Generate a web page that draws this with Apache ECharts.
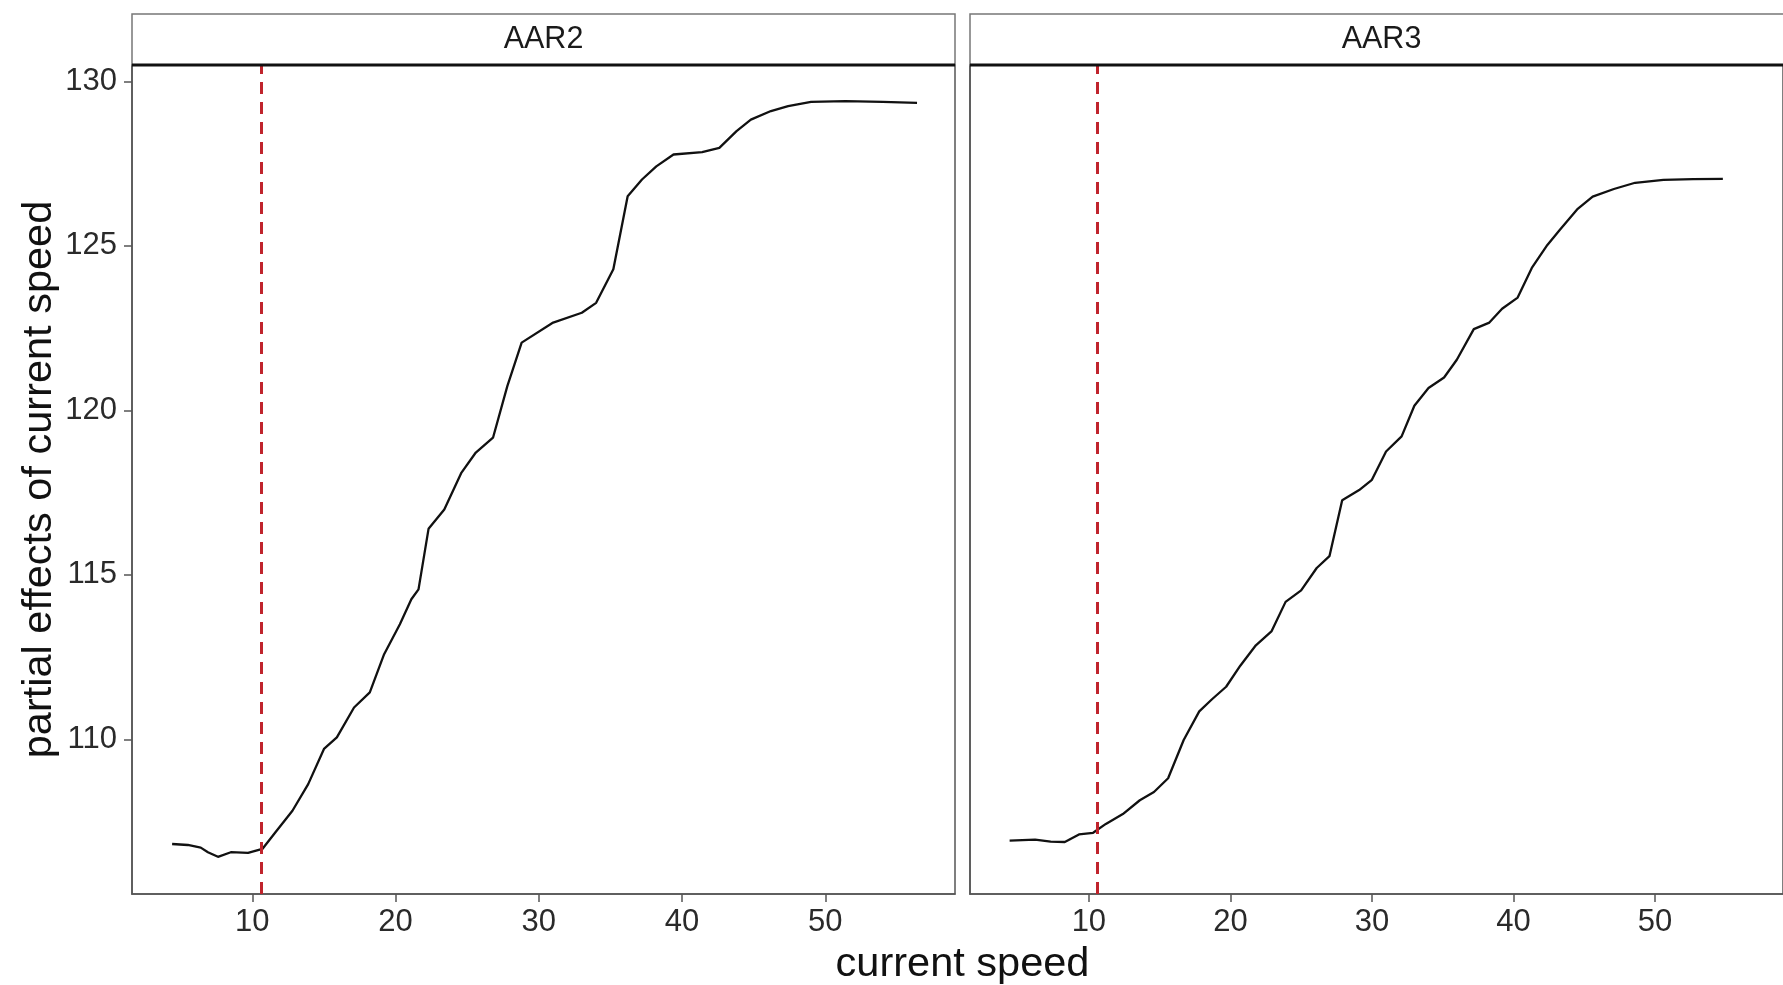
<!DOCTYPE html>
<html>
<head>
<meta charset="utf-8">
<script src="https://cdn.jsdelivr.net/npm/echarts@6/dist/echarts.min.js"></script>
<style>
html,body{margin:0;padding:0;background:#fff;}
#c{width:1783px;height:985px;}
</style>
</head>
<body>
<div id="c"></div>
<script>
// ---- data ----
const panels = ["AAR2", "AAR3"];
const xTicks = [10, 20, 30, 40, 50];
const yTicks = [110, 115, 120, 125, 130];
const threshold = 10.6;

const speedAAR2 = [4.4, 5.5, 6.4, 6.9, 7.6, 8.5, 9.7, 10.7, 11.6, 12.8, 13.9, 15.0, 15.9, 17.1, 18.2, 19.2, 20.3, 21.1, 21.6, 22.3, 23.4, 24.6, 25.6, 26.8, 27.8, 28.8, 31.0, 33.0, 34.0, 35.2, 36.2, 37.2, 38.2, 39.4, 41.4, 42.6, 43.8, 44.8, 46.2, 47.4, 49.0, 51.4, 54.0, 56.4];
const effectAAR2 = [106.82, 106.79, 106.71, 106.57, 106.43, 106.57, 106.55, 106.67, 107.17, 107.83, 108.64, 109.71, 110.06, 110.97, 111.43, 112.59, 113.50, 114.26, 114.56, 116.40, 116.99, 118.11, 118.72, 119.17, 120.74, 122.06, 122.67, 122.97, 123.27, 124.29, 126.51, 127.02, 127.42, 127.78, 127.85, 127.98, 128.49, 128.84, 129.10, 129.25, 129.38, 129.40, 129.38, 129.35];

const speedAAR3 = [4.4, 6.2, 7.3, 8.3, 9.3, 10.3, 11.2, 12.4, 13.6, 14.6, 15.6, 16.7, 17.8, 18.7, 19.7, 20.7, 21.8, 22.9, 23.9, 25.0, 26.1, 27.0, 27.9, 29.1, 30.0, 31.0, 32.1, 33.0, 34.0, 35.1, 36.0, 37.2, 38.3, 39.2, 40.3, 41.3, 42.4, 43.3, 44.5, 45.6, 47.1, 48.6, 50.6, 52.7, 54.8];
const effectAAR3 = [106.92, 106.95, 106.89, 106.88, 107.11, 107.16, 107.43, 107.73, 108.15, 108.40, 108.82, 109.98, 110.85, 111.22, 111.60, 112.24, 112.86, 113.28, 114.18, 114.53, 115.21, 115.57, 117.27, 117.58, 117.89, 118.75, 119.21, 120.14, 120.68, 121.00, 121.54, 122.47, 122.67, 123.09, 123.43, 124.33, 125.03, 125.50, 126.11, 126.50, 126.73, 126.92, 127.01, 127.03, 127.04];

const xTitle = "current speed";
const yTitle = "partial effects of current speed";

// ---- layout ----
const FONT = "'Liberation Sans', Arial, Helvetica, sans-serif";
const gridTop = 65, gridH = 829, gridW = 823;
const gridLefts = [132, 970];
const stripTop = 14;
const xRange = [1.6, 59.05];
const yRange = [105.3, 130.5];
const borderCol = "#555555";
const labelCol = "#2a2a2a";

const chart = echarts.init(document.getElementById('c'), null, {renderer: 'canvas'});

const zip = (xs, ys) => xs.map((x, i) => [x, ys[i]]);
const seriesData = [zip(speedAAR2, effectAAR2), zip(speedAAR3, effectAAR3)];

const grids = gridLefts.map(l => ({
  left: l, top: gridTop, width: gridW, height: gridH,
  show: true, borderColor: borderCol, borderWidth: 1.5, backgroundColor: '#fff', containLabel: false
}));

const xAxes = gridLefts.map((l, i) => ({
  type: 'value', gridIndex: i, min: xRange[0], max: xRange[1],
  axisLine: {show: true, onZero: false, lineStyle: {color: borderCol, width: 1.5}},
  axisTick: {show: true, length: 8, customValues: xTicks, lineStyle: {color: borderCol, width: 1.5}},
  axisLabel: {show: true, customValues: xTicks, margin: 13, fontSize: 31, color: labelCol, fontFamily: FONT},
  splitLine: {show: false}
}));

const yAxes = gridLefts.map((l, i) => ({
  type: 'value', gridIndex: i, min: yRange[0], max: yRange[1],
  axisLine: {show: true, onZero: false, lineStyle: {color: borderCol, width: 1.5}},
  axisTick: {show: i === 0, length: 8, customValues: yTicks, lineStyle: {color: borderCol, width: 1.5}},
  axisLabel: {show: i === 0, customValues: yTicks, margin: 15, fontSize: 31, color: labelCol, fontFamily: FONT},
  splitLine: {show: false}
}));

const series = seriesData.map((d, i) => ({
  type: 'line', xAxisIndex: i, yAxisIndex: i, data: d,
  showSymbol: false, symbol: 'none', smooth: false,
  lineStyle: {color: '#111', width: 2.3},
  z: 3,
  markLine: {
    silent: true, symbol: ['none', 'none'], label: {show: false},
    lineStyle: {color: '#c0242c', type: [12, 8], width: 3},
    data: [{xAxis: threshold}], z: 4
  }
}));

const graphics = [];
gridLefts.forEach((l, i) => {
  graphics.push({
    type: 'rect', shape: {x: l, y: stripTop, width: gridW, height: gridTop - stripTop},
    style: {fill: '#fff', stroke: '#777', lineWidth: 1.5}, z: 10
  });
  graphics.push({
    type: 'line', shape: {x1: l, y1: gridTop, x2: l + gridW, y2: gridTop},
    style: {stroke: '#111', lineWidth: 3}, z: 11
  });
  graphics.push({
    type: 'text', x: l + gridW / 2, y: (stripTop + gridTop) / 2,
    style: {text: panels[i], fontSize: 30.5, fill: '#1a1a1a', fontFamily: FONT, align: 'center', verticalAlign: 'middle'},
    z: 12
  });
});
graphics.push({
  type: 'text', x: (gridLefts[0] + gridLefts[1] + gridW) / 2, y: 965,
  style: {text: xTitle, fontSize: 41.5, fill: '#111', fontFamily: FONT, align: 'center', verticalAlign: 'middle'}, z: 12
});
graphics.push({
  type: 'text', x: 40, y: gridTop + gridH / 2, rotation: Math.PI / 2,
  style: {text: yTitle, fontSize: 41.5, fill: '#111', fontFamily: FONT, align: 'center', verticalAlign: 'middle'}, z: 12
});

chart.setOption({
  backgroundColor: '#fff',
  animation: false,
  grid: grids,
  xAxis: xAxes,
  yAxis: yAxes,
  series: series,
  graphic: graphics
});
</script>
</body>
</html>
